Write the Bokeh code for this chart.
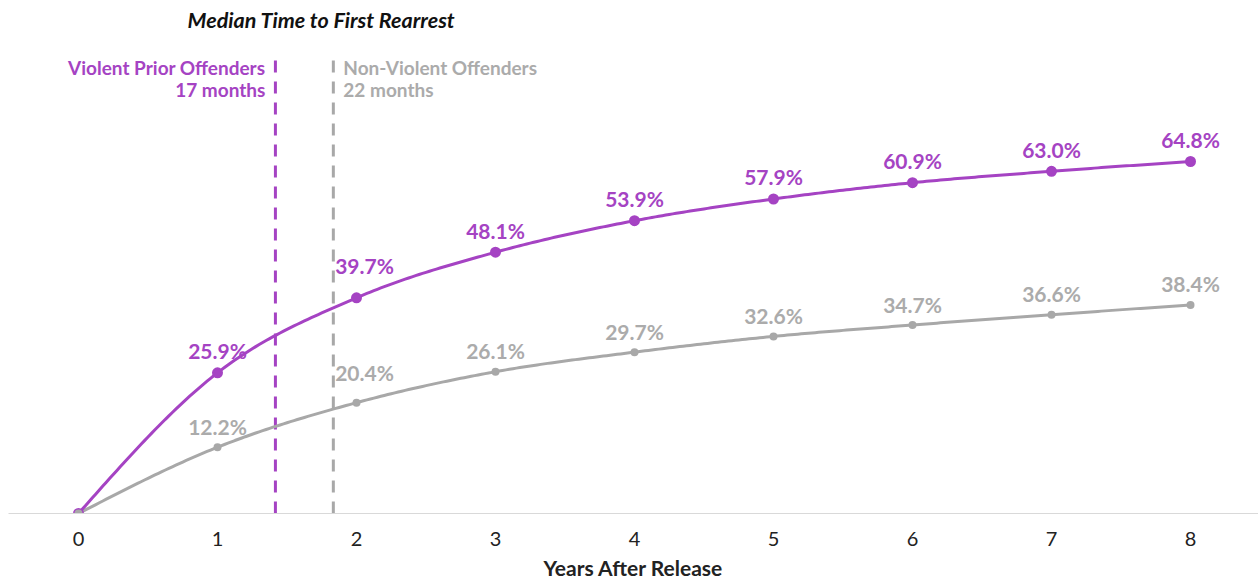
import numpy as np
from bokeh.plotting import figure
from bokeh.models import Range1d, FixedTicker, ColumnDataSource
from bokeh.core.properties import value
from bokeh.embed import file_html
from bokeh.resources import INLINE

# ---- data ----
years = [0, 1, 2, 3, 4, 5, 6, 7, 8]
violent = [0, 25.9, 39.7, 48.1, 53.9, 57.9, 60.9, 63.0, 64.8]
nonviolent = [0, 12.2, 20.4, 26.1, 29.7, 32.6, 34.7, 36.6, 38.4]
violent_labels = ["", "25.9%", "39.7%", "48.1%", "53.9%", "57.9%", "60.9%", "63.0%", "64.8%"]
nonviolent_labels = ["", "12.2%", "20.4%", "26.1%", "29.7%", "32.6%", "34.7%", "36.6%", "38.4%"]
median_violent_months = 17
median_nonviolent_months = 22
tick_labels = ["0", "1", "2", "3", "4", "5", "6", "7", "8"]

PURPLE = "#A543C3"
GRAY = "#A8A8A8"
GRAY_TXT = "#ABABAB"
FONT = "Lato"


def monotone_curve(xs, ys, n=40):
    """d3 curveMonotoneX style smoothing through the data points."""
    xs = np.asarray(xs, float)
    ys = np.asarray(ys, float)
    k = len(xs)
    h = np.diff(xs)
    s = np.diff(ys) / h
    t = np.zeros(k)
    for i in range(1, k - 1):
        h0, h1 = h[i - 1], h[i]
        s0, s1 = s[i - 1], s[i]
        p = (s0 * h1 + s1 * h0) / (h0 + h1)
        t[i] = (np.sign(s0) + np.sign(s1)) * min(abs(s0), abs(s1), 0.5 * abs(p))
    t[0] = (3 * s[0] - t[1]) / 2
    t[-1] = (3 * s[-1] - t[-2]) / 2
    ox, oy = [], []
    for i in range(k - 1):
        u = np.linspace(0, 1, n, endpoint=(i == k - 2))
        hh = h[i]
        h00 = 2 * u**3 - 3 * u**2 + 1
        h10 = u**3 - 2 * u**2 + u
        h01 = -2 * u**3 + 3 * u**2
        h11 = u**3 - u**2
        ox.extend(xs[i] + u * hh)
        oy.extend(h00 * ys[i] + h10 * hh * t[i] + h01 * ys[i + 1] + h11 * hh * t[i + 1])
    return ox, oy


# pixel geometry (picture coords): x=0 at 78, 139 px per year; y=0 at 513, 5.432 px per %
PX_X = 139.0
PX_Y = 5.432
W, H = 1258, 582
LEFT = 8
AXIS_Y = 513
BOTTOM = H - AXIS_Y

p = figure(width=W, height=H, output_backend="svg", toolbar_location=None,
           x_range=Range1d((LEFT - 78) / PX_X, (W - 78) / PX_X),
           y_range=Range1d(0, AXIS_Y / PX_Y),
           min_border_left=LEFT, min_border_right=0, min_border_top=0,
           min_border_bottom=BOTTOM, y_axis_location=None)
p.outline_line_color = None
p.grid.visible = False
p.background_fill_color = "white"
p.border_fill_color = "white"

def ydat(pix_y):
    return (AXIS_Y - pix_y) / PX_Y

def xdat(pix_x):
    return (pix_x - 78) / PX_X

# vertical median lines
mv = median_violent_months / 12
mn = median_nonviolent_months / 12
p.segment(x0=[mv], y0=[0], x1=[mv], y1=[ydat(58)], line_color=PURPLE,
          line_width=3, line_dash="12 9")
p.segment(x0=[mn], y0=[0], x1=[mn], y1=[ydat(58)], line_color=GRAY,
          line_width=3, line_dash="12 9")

p.text(x=[mv, mv], y=[ydat(67), ydat(89)],
       text=["Violent Prior Offenders", f"{median_violent_months} months"],
       x_offset=-10, text_align="right", text_baseline="middle",
       text_font=value(FONT), text_font_style="bold", text_font_size="19px",
       text_color=PURPLE)
p.text(x=[mn, mn], y=[ydat(67), ydat(89)],
       text=["Non-Violent Offenders", f"{median_nonviolent_months} months"],
       x_offset=10, text_align="left", text_baseline="middle",
       text_font=value(FONT), text_font_style="bold", text_font_size="19px",
       text_color=GRAY_TXT)

# title
p.text(x=[xdat(321)], y=[ydat(19)], text=["Median Time to First Rearrest"],
       text_align="center", text_baseline="middle", text_font=value(FONT),
       text_font_style="bold italic", text_font_size="21.5px", text_color="#111111")

# curves
gx, gy = monotone_curve(years, nonviolent)
vx, vy = monotone_curve(years, violent)
p.line(gx, gy, line_color=GRAY, line_width=3)
p.line(vx, vy, line_color=PURPLE, line_width=3)

p.scatter(years, violent, size=9, fill_color=PURPLE, line_color=PURPLE, line_width=2)
p.scatter(years, nonviolent, size=8, fill_color=GRAY, line_alpha=0)

# value labels (screen offsets from each point)
v_dy = [-22] * len(years)
v_dy[2] = -32
v_dx = [0] * len(years)
v_dx[2] = 8
g_dy = [-21] * len(years)
g_dy[2] = -30
g_dx = [0] * len(years)
g_dx[2] = 8

vsrc = ColumnDataSource(dict(x=years, y=violent, t=violent_labels, dy=v_dy, dx=v_dx))
gsrc = ColumnDataSource(dict(x=years, y=nonviolent, t=nonviolent_labels, dy=g_dy, dx=g_dx))
p.text(x="x", y="y", text="t", y_offset="dy", x_offset="dx", source=vsrc,
       text_align="center", text_baseline="middle", text_font=value(FONT),
       text_font_style="bold", text_font_size="21px", text_color=PURPLE)
p.text(x="x", y="y", text="t", y_offset="dy", x_offset="dx", source=gsrc,
       text_align="center", text_baseline="middle", text_font=value(FONT),
       text_font_style="bold", text_font_size="21px", text_color=GRAY_TXT)

# x axis
ax = p.xaxis[0]
ax.ticker = FixedTicker(ticks=years)
ax.major_label_overrides = {y: lab for y, lab in zip(years, tick_labels)}
ax.major_tick_line_color = None
ax.minor_tick_line_color = None
ax.axis_line_color = "#D9D9D9"
ax.axis_line_width = 1
ax.major_label_text_font = FONT
ax.major_label_text_font_size = "20px"
ax.major_label_text_color = "#222222"
ax.major_label_standoff = 12
ax.axis_label = "Years After Release"
ax.axis_label_text_font = FONT
ax.axis_label_text_font_style = "bold"
ax.axis_label_text_font_size = "21px"
ax.axis_label_text_color = "#222222"
ax.axis_label_standoff = 6

open("out.html", "w").write(file_html(p, INLINE))
